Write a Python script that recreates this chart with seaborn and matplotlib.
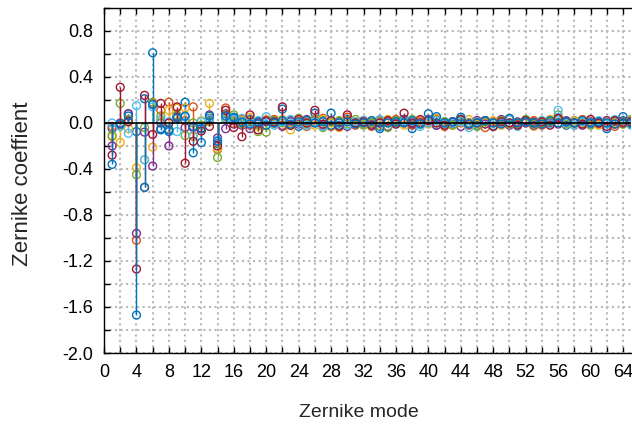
#!/usr/bin/env python3
# zernike_stem.py

import logging

import matplotlib
matplotlib.use("Agg")
logging.getLogger("matplotlib.font_manager").setLevel(logging.ERROR)

import numpy as np
import pandas as pd
import matplotlib.pyplot as plt
from matplotlib.ticker import MultipleLocator, FormatStrFormatter
import seaborn as sns

sns.set_theme(style="ticks")
plt.rcParams["font.family"] = ["Liberation Sans", "DejaVu Sans"]

# Zernike modes 1..65
modes = list(range(1, 66))

# one coefficient list per measurement (modes 1-20, then 21-65)
coef_a = [-0.05, -0.01, 0.08, -0.075, 0.21, 0.61, -0.06, -0.075, 0.06, 0.18,
          -0.26, -0.17, 0.04, -0.18, 0.08, 0.04, 0.0, 0.03, -0.01, 0.01,
          0.02, 0.12, 0.01, -0.03, 0.0, 0.085, 0.02, 0.085, -0.02, 0.03,
          0.0, -0.01, 0.01, -0.03, 0.02, 0.0, 0.03, -0.05, 0.01, 0.02,
          -0.02, 0.01, -0.01, 0.03, 0.0, -0.02, 0.01, -0.03, 0.02, 0.0,
          -0.01, 0.02, 0.01, -0.01, 0.0, 0.03, -0.02, 0.02, 0.0, -0.01,
          0.01, -0.05, 0.01, 0.02, -0.01]
coef_b = [-0.03, -0.02, 0.02, -1.02, -0.56, 0.17, 0.11, 0.18, 0.13, 0.02,
          0.14, -0.05, 0.02, -0.23, 0.13, 0.02, 0.03, -0.02, 0.01, -0.02,
          0.03, -0.02, 0.02, 0.01, -0.03, 0.02, 0.04, -0.03, 0.01, 0.05,
          -0.02, 0.0, -0.03, 0.02, 0.01, 0.03, 0.0, -0.02, 0.01, 0.0,
          0.03, -0.03, 0.01, 0.0, -0.02, 0.02, -0.04, 0.01, 0.0, 0.03,
          -0.01, 0.0, 0.02, -0.02, 0.01, 0.04, 0.0, -0.02, 0.03, 0.0,
          -0.01, 0.02, -0.03, 0.01, 0.0]
coef_c = [-0.12, -0.17, -0.05, -0.39, -0.32, -0.21, 0.02, 0.11, 0.13, 0.13,
          -0.12, 0.02, 0.17, -0.22, 0.05, 0.0, 0.02, 0.05, -0.03, 0.03,
          -0.01, 0.03, -0.06, 0.02, 0.01, -0.02, 0.03, 0.0, -0.04, 0.02,
          0.01, -0.01, 0.02, -0.02, 0.03, 0.01, -0.02, 0.0, 0.02, -0.01,
          0.04, 0.0, -0.02, 0.01, 0.03, -0.01, 0.0, 0.02, -0.02, 0.04,
          0.0, 0.01, -0.03, 0.02, 0.03, 0.0, -0.01, 0.02, 0.0, 0.03,
          -0.02, 0.01, 0.0, -0.01, 0.02]
coef_d = [-0.20, 0.0, 0.08, -0.96, -0.08, -0.375, 0.0, -0.20, 0.05, -0.04,
          -0.04, -0.045, 0.07, -0.13, -0.05, -0.01, -0.02, -0.05, 0.0, 0.01,
          0.0, -0.03, 0.02, -0.01, 0.03, 0.0, -0.02, 0.02, 0.01, -0.03,
          0.0, 0.02, -0.01, 0.0, -0.03, 0.02, 0.01, -0.01, 0.0, 0.03,
          -0.02, 0.0, 0.01, -0.03, 0.0, 0.02, -0.01, 0.0, 0.03, -0.02,
          0.01, 0.0, -0.02, 0.01, 0.0, -0.01, 0.02, 0.0, -0.02, 0.01,
          0.0, 0.02, -0.01, 0.0, 0.01]
coef_e = [-0.11, 0.17, 0.03, -0.45, -0.04, 0.18, 0.06, -0.055, 0.07, -0.11,
          0.0, -0.02, 0.01, -0.30, 0.03, 0.07, -0.01, 0.02, -0.075, -0.08,
          0.02, 0.0, -0.02, 0.04, -0.01, 0.03, -0.04, 0.01, 0.02, -0.01,
          0.03, -0.02, 0.0, 0.01, -0.04, 0.02, 0.0, 0.03, -0.01, 0.02,
          0.0, 0.01, -0.02, 0.02, 0.0, -0.03, 0.01, 0.0, 0.02, -0.01,
          0.0, 0.03, -0.01, 0.0, 0.01, 0.07, -0.01, 0.0, 0.02, -0.02,
          0.01, 0.0, 0.02, -0.01, 0.03]
coef_f = [0.0, -0.03, -0.09, 0.15, -0.32, 0.14, 0.03, 0.01, -0.075, 0.05,
          -0.11, 0.01, 0.03, -0.15, 0.04, 0.03, 0.04, 0.0, 0.02, 0.055,
          -0.02, 0.01, 0.03, 0.0, -0.02, 0.01, -0.03, 0.02, 0.0, -0.02,
          0.01, 0.02, -0.02, 0.03, 0.0, -0.01, 0.02, 0.01, -0.03, 0.0,
          0.02, -0.01, 0.0, 0.01, -0.04, 0.01, 0.02, -0.02, 0.0, 0.03,
          -0.03, 0.01, 0.0, 0.02, -0.01, 0.11, 0.0, -0.02, 0.01, 0.0,
          0.02, -0.01, 0.03, 0.0, -0.02]
coef_g = [-0.28, 0.31, 0.01, -1.27, 0.24, -0.10, 0.17, 0.0, 0.14, -0.35,
          -0.16, -0.07, -0.03, -0.20, 0.11, -0.04, -0.12, 0.07, -0.06, 0.02,
          0.01, 0.14, -0.02, 0.03, 0.0, 0.11, -0.01, 0.02, -0.03, 0.07,
          0.0, 0.01, -0.02, 0.0, 0.02, -0.01, 0.085, 0.0, 0.03, 0.02,
          0.0, -0.02, 0.01, 0.03, -0.01, 0.0, 0.02, -0.03, 0.01, 0.0,
          -0.02, 0.02, 0.0, 0.01, -0.02, 0.04, 0.01, 0.0, -0.01, 0.03,
          0.0, -0.03, 0.02, 0.0, 0.01]
coef_h = [-0.36, -0.01, 0.06, -1.67, -0.56, 0.16, -0.05, -0.06, 0.04, 0.06,
          -0.03, -0.05, 0.06, -0.16, 0.06, 0.05, 0.01, -0.01, 0.01, -0.02,
          0.0, 0.02, -0.01, 0.01, 0.02, 0.0, 0.01, -0.02, 0.0, 0.01,
          -0.01, 0.0, 0.02, -0.05, 0.0, 0.01, 0.0, 0.02, -0.01, 0.08,
          0.055, 0.0, 0.01, 0.05, -0.01, 0.0, 0.02, 0.0, -0.01, 0.04,
          0.0, 0.01, 0.0, -0.01, 0.02, 0.0, 0.01, 0.0, 0.02, 0.0,
          0.01, 0.0, -0.01, 0.055, 0.0]

series = [coef_a, coef_b, coef_c, coef_d, coef_e, coef_f, coef_g, coef_h]

# MATLAB-like colour order
colors = ["#0072BD", "#D95319", "#EDB120", "#7E2F8E",
          "#77AC30", "#4DBEEE", "#A2142F", "#0072BD"]

fig = plt.figure(figsize=(6.32, 4.25), dpi=100)
ax = fig.add_axes([0.1646, 0.1694, 0.834, 0.812])

for i, (vals, c) in enumerate(zip(series, colors)):
    df = pd.DataFrame({"mode": modes, "coef": vals})
    ax.vlines(df["mode"], 0, df["coef"], color=c, linewidth=1.0, zorder=3 + i)
    sns.scatterplot(data=df, x="mode", y="coef", ax=ax, marker="o", s=32,
                    facecolor="none", edgecolor=c, linewidth=1.0,
                    zorder=3 + i, legend=False)

ax.axhline(0, color="black", linewidth=1.2, zorder=20)

ax.set_xlim(0, 65)
ax.set_ylim(-2.0, 1.0)
ax.xaxis.set_major_locator(MultipleLocator(4))
ax.xaxis.set_minor_locator(MultipleLocator(2))
ax.yaxis.set_major_locator(MultipleLocator(0.4))
ax.yaxis.set_minor_locator(MultipleLocator(0.2))
ax.yaxis.set_major_formatter(FormatStrFormatter("%.1f"))

ax.grid(which="both", linestyle=":", color="#b8b8b8", linewidth=1.5, zorder=0)
ax.set_axisbelow(True)

ax.tick_params(which="both", direction="in", length=4, width=1,
               top=True, right=False, colors="black", labelsize=13)
ax.tick_params(axis="x", pad=8)
ax.tick_params(axis="y", pad=8)
for side in ["left", "bottom", "top"]:
    ax.spines[side].set_color("black")
    ax.spines[side].set_linewidth(1.0)
ax.spines["right"].set_visible(False)

ax.set_xlabel("Zernike mode", fontsize=14)
ax.set_ylabel("Zernike coeffient", fontsize=16)
ax.xaxis.set_label_coords(0.484, -0.148)
ax.yaxis.set_label_coords(-0.134, 0.49)

fig.savefig("out.png", dpi=100)
plt.close(fig)
